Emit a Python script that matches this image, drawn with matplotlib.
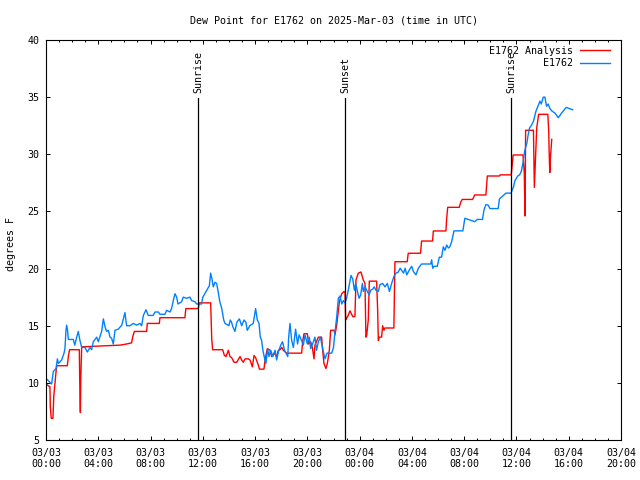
import matplotlib
matplotlib.use("Agg")
import matplotlib.pyplot as plt

plt.rcParams['font.family'] = ['DejaVu Sans Mono']
plt.rcParams['font.size'] = 7.2

# hours since 2025-03-03 00:00 UTC
obs_t = [0, 0.43, 0.56, 0.77, 0.87, 0.95, 1.2, 1.38, 1.45, 1.53, 1.58, 1.65, 1.71, 2.09, 2.2, 2.35, 2.47, 2.6, 2.73,
         2.98, 3.16, 3.37, 3.49, 3.62, 3.88, 4.0, 4.26, 4.39, 4.52, 4.64, 4.77, 4.9, 5.02, 5.15, 5.28, 5.53, 5.8,
         5.92, 6.04, 6.17, 6.43, 6.68, 6.94, 7.19, 7.32, 7.45, 7.65, 7.83, 8.2, 8.34, 8.6, 8.72, 9.1, 9.23, 9.49,
         9.61, 9.74, 9.87, 10.0, 10.1, 10.38, 10.5, 10.76, 11.02, 11.14, 11.4, 11.53, 11.8,
         11.9, 12.0, 12.3, 12.5, 12.6, 12.7, 12.8, 12.93, 13.06, 13.2, 13.3, 13.45, 13.6, 13.7, 14.0, 14.1, 14.2,
         14.3, 14.46, 14.6, 14.8, 14.97, 15.15, 15.3, 15.4, 15.6, 15.86, 16.04, 16.17, 16.3, 16.4, 16.5, 16.6,
         16.75, 16.83, 16.96, 17.06, 17.2, 17.35, 17.53, 17.65, 17.78, 17.96, 18.1, 18.25, 18.5, 18.57, 18.67,
         18.8, 18.93, 19.1, 19.25, 19.37, 19.6, 19.69, 19.82, 20.0, 20.15, 20.25, 20.4, 20.58, 20.7, 20.84, 21.0,
         21.2, 21.35, 21.5, 21.86, 22.0, 22.1, 22.25, 22.37, 22.5, 22.63, 22.75, 22.88,
         23.0, 23.13, 23.26, 23.34, 23.47, 23.6, 23.7, 23.83, 23.96, 24.08, 24.21, 24.28, 24.41, 24.59, 24.72,
         24.85, 25.0, 25.12, 25.25, 25.43, 25.56, 25.76, 25.94, 26.12, 26.28, 26.45, 26.62, 26.78, 26.96,
         27.1, 27.36, 27.48, 27.61, 27.81, 27.98, 28.11, 28.31, 28.49, 28.74, 29.44, 29.51, 29.59, 29.69, 29.94,
         30.1, 30.27, 30.4, 30.53, 30.66, 30.79, 30.9, 31.04, 31.22, 31.9, 32.05, 32.57, 32.8, 33.0, 33.4, 33.51,
         33.66, 33.84, 33.97, 34.6, 34.7, 35.2, 35.58, 35.76, 35.89,
         36.1, 36.24, 36.37, 36.5, 36.63, 36.8, 36.88, 37.0, 37.13, 37.3, 37.39, 37.5, 37.64, 37.8, 37.9, 38.05,
         38.18, 38.3, 38.43, 38.56, 38.7, 38.95, 39.2, 39.45, 39.8, 40.05, 40.3]
obs_v = [10.4, 9.9, 11.0, 11.25, 12.1, 11.7, 12.0, 12.6, 13.0, 14.6, 15.05, 14.6, 13.8, 13.8, 13.3, 14.0, 14.5, 13.7, 13.1,
         13.1, 12.7, 13.1, 12.9, 13.6, 14.0, 13.6, 14.5, 15.6, 14.9, 14.5, 14.6, 14.0, 13.9, 13.4, 14.6, 14.7, 15.05,
         15.6, 16.15, 15.0, 15.0, 15.2, 15.05, 15.2, 15.0, 15.9, 16.4, 15.9, 15.9, 16.2, 16.2, 16.0, 16.0, 16.35, 16.2,
         16.5, 17.2, 17.8, 17.5, 16.9, 17.1, 17.5, 17.4, 17.5, 17.2, 17.1, 16.9, 16.9,
         16.9, 17.5, 18.1, 18.5, 19.6, 19.1, 18.4, 18.8, 18.7, 17.8, 17.1, 16.5, 15.5, 15.2, 15.0, 15.5, 15.3,
         14.9, 14.5, 15.3, 15.6, 15.0, 15.5, 15.3, 14.6, 15.0, 15.2, 16.5, 15.5, 15.2, 14.0, 13.7, 12.85,
         12.0, 11.7, 13.0, 12.3, 12.85, 12.3, 12.85, 12.0, 12.7, 13.3, 13.6, 12.85, 12.3, 14.0, 15.2,
         13.7, 13.1, 14.7, 13.4, 14.2, 13.6, 13.3, 14.2, 13.4, 14.0, 13.0, 13.4, 14.0, 12.85, 13.6, 14.0,
         12.85, 12.1, 12.6, 12.6, 13.1, 14.3, 15.8, 17.4, 17.6, 16.9, 17.2, 17.0,
         17.4, 18.1, 18.9, 19.4, 19.1, 18.1, 18.7, 18.0, 17.4, 17.7, 18.7, 18.0, 18.4, 18.0, 17.7,
         18.1, 18.2, 18.4, 18.1, 18.0, 18.6, 18.7, 18.4, 18.7, 18.0, 18.7, 19.3, 19.6, 19.7,
         20.03, 19.6, 20.03, 19.45, 19.9, 20.2, 19.75, 19.45, 20.03, 20.4, 20.4, 20.77, 20.03, 20.2, 20.2,
         21.0, 21.0, 21.9, 21.6, 22.06, 21.8, 21.9, 22.35, 23.3, 23.3, 24.4, 24.2, 24.1, 24.3, 24.3, 25.1,
         25.6, 25.55, 25.25, 25.25, 26.1, 26.6, 26.6, 27.1, 27.7,
         28.1, 28.2, 28.5, 29.25, 30.3, 31.0, 31.6, 32.3, 32.5, 32.9, 33.3, 33.8, 34.2, 34.65, 34.4, 35.0,
         35.0, 34.2, 34.4, 34.0, 33.8, 33.6, 33.2, 33.6, 34.1, 34.0, 33.9]

ana_t = [0, 0.3, 0.33, 0.4, 0.53, 0.6, 0.77, 0.82, 1.63, 1.71, 1.8, 2.55, 2.58, 2.63, 2.66, 2.73, 3.62, 4.64, 5.66,
         6.17, 6.55, 6.63, 6.76, 7.7, 7.75, 8.67, 8.72, 10.63, 10.7, 11.65, 11.73,
         12.6, 12.68, 12.75, 13.52, 13.65, 13.78, 13.95, 14.08, 14.21, 14.39, 14.59, 14.85, 14.97, 15.1, 15.23,
         15.48, 15.61, 15.79, 15.92, 16.04, 16.25, 16.33, 16.68, 16.76, 16.94, 17.14, 17.27, 17.45, 17.65, 17.78,
         17.91, 18.04, 18.16, 18.42, 19.56, 19.64, 19.74, 20.0, 20.1, 20.25, 20.38, 20.51, 20.58, 20.84, 21.09,
         21.17, 21.27, 21.42, 21.53, 21.68, 21.78, 22.04, 22.11, 22.24, 22.37, 22.45, 22.63, 22.8, 22.88,
         22.93, 23.0, 23.13, 23.26, 23.39, 23.47, 23.64, 23.72, 23.9, 24.1, 24.2, 24.28, 24.41, 24.48, 24.54,
         24.66, 24.74, 25.3, 25.38, 25.43, 25.51, 25.68, 25.76, 25.86, 25.93, 26.62, 26.7, 27.64, 27.72,
         28.66, 28.74, 29.58, 29.64, 30.6, 30.66, 30.74, 31.62, 31.75, 31.85, 32.65, 32.8, 33.66, 33.77, 34.7,
         34.75, 35.6, 35.75, 36.5, 36.6, 36.65, 36.68, 36.7, 37.3, 37.37, 37.42, 37.55, 37.7, 38.4, 38.47,
         38.5, 38.55, 38.6, 38.7]
ana_v = [9.9, 9.65, 7.9, 6.9, 6.9, 8.9, 11.0, 11.5, 11.5, 12.3, 12.9, 12.9, 10.2, 7.4, 10.3, 13.15, 13.2, 13.25, 13.3,
         13.4, 13.5, 14.0, 14.5, 14.5, 15.2, 15.2, 15.7, 15.7, 16.5, 16.5, 17.0,
         17.0, 13.9, 12.9, 12.9, 12.4, 12.3, 12.85, 12.3, 12.2, 11.8, 11.8, 12.3, 12.0, 11.8, 12.1,
         12.1, 12.0, 11.4, 12.4, 12.2, 11.55, 11.2, 11.2, 12.0, 13.0, 12.85, 12.3, 12.6, 12.3, 12.85,
         12.9, 13.1, 12.85, 12.6, 12.6, 13.6, 14.3, 14.3, 13.4, 13.6, 13.1, 12.1, 13.3, 14.0, 14.0,
         12.85, 11.7, 11.25, 11.7, 12.85, 14.6, 14.6, 14.2, 15.0, 16.35, 17.1, 17.8, 18.0, 17.9,
         15.5, 15.65, 15.9, 16.3, 16.0, 15.8, 15.8, 19.0, 19.6, 19.7, 19.3, 19.0, 18.7, 14.0, 14.15,
         15.5, 18.9, 18.9, 16.3, 13.7, 14.0, 14.0, 15.0, 14.6, 14.8, 14.8, 20.6, 20.6, 21.34,
         21.34, 22.41, 22.41, 23.29, 23.29, 24.4, 25.36, 25.36, 25.85, 26.05, 26.05, 26.44, 26.44, 28.1, 28.1,
         28.2, 28.2, 29.94, 29.94, 28.35, 24.6, 28.35, 32.1, 32.1, 27.1, 28.5, 32.3, 33.5, 33.5, 32.0,
         30.3, 28.4, 29.7, 31.3]

event_times = [11.65, 22.9, 35.6]
event_names = ['Sunrise', 'Sunset', 'Sunrise']

xtick_pos = list(range(0, 45, 4))
xtick_labels = ['03/03\n00:00', '03/03\n04:00', '03/03\n08:00', '03/03\n12:00', '03/03\n16:00', '03/03\n20:00',
                '03/04\n00:00', '03/04\n04:00', '03/04\n08:00', '03/04\n12:00', '03/04\n16:00', '03/04\n20:00']
ytick_pos = [5, 10, 15, 20, 25, 30, 35, 40]

fig = plt.figure(figsize=(6.4, 4.8), dpi=100)
ax = fig.add_axes([46/640, 40/480, 575/640, 400/480])

ax.plot(ana_t, ana_v, color='#ff0000', lw=1.0, label='E1762 Analysis')
ax.plot(obs_t, obs_v, color='#0080ff', lw=1.0, label='E1762')

for t, name in zip(event_times, event_names):
    ax.plot([t, t], [5, 34.93], color='black', lw=0.9)
    ax.text(t, 35.4, name, rotation=90, ha='center', va='bottom', fontsize=7.2)

ax.set_xlim(0, 44)
ax.set_ylim(5, 40)
ax.set_xticks(xtick_pos)
ax.set_xticklabels(xtick_labels)
ax.set_xticks(range(0, 45), minor=True)
ax.set_yticks(ytick_pos)
ax.tick_params(which='both', direction='in', top=True, right=True, width=0.7, color='black')
ax.tick_params(which='major', length=3.0)
ax.tick_params(which='minor', length=1.5)
ax.tick_params(axis='x', which='major', pad=5.5)
ax.tick_params(axis='y', which='major', pad=4.5)
for s in ax.spines.values():
    s.set_linewidth(0.8)

ax.set_title('Dew Point for E1762 on 2025-Mar-03 (time in UTC)', fontsize=7.2, pad=12)
fig.text(11.5/640, 1 - 244/480, 'degrees F', rotation=90, ha='center', va='center', fontsize=7.2)

leg = ax.legend(loc='upper right', bbox_to_anchor=(1 - 11/575, 1 - 6/400), markerfirst=False, frameon=False,
                borderpad=0, borderaxespad=0, handlelength=3.0, handletextpad=0.7, labelspacing=0.25, fontsize=7.2)

fig.savefig('out.png', dpi=100)
